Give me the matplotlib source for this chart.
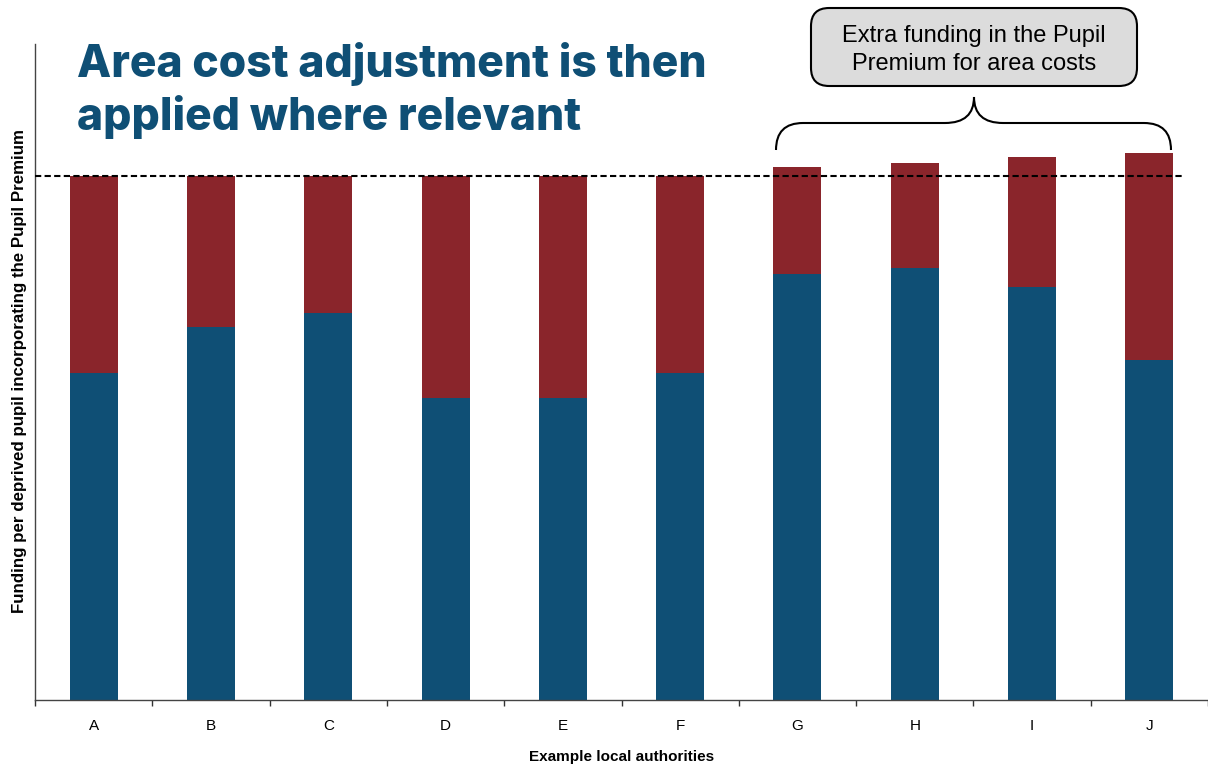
import matplotlib
matplotlib.use("Agg")
import matplotlib.pyplot as plt
from matplotlib.patches import FancyBboxPatch, PathPatch
from matplotlib.path import Path
import numpy as np

categories = ["A", "B", "C", "D", "E", "F", "G", "H", "I", "J"]
base_funding = [62.3, 71.1, 73.8, 57.6, 57.6, 62.3, 81.3, 82.4, 78.7, 64.9]
total_funding = [100.0, 100.0, 100.0, 100.0, 100.0, 100.0, 101.7, 102.4, 103.5, 104.3]
pupil_premium = [t - b for t, b in zip(total_funding, base_funding)]
reference_level = 99.9

BLUE = "#0F4F75"
RED = "#8A252B"

fig = plt.figure(figsize=(12.08, 7.67), dpi=100)
W, H = 1208, 767
ax = fig.add_axes([35 / W, (H - 700) / H, (1208 - 35) / W, (700 - 44) / H])

x = np.arange(len(categories))
ax.bar(x, base_funding, width=0.41, color=BLUE, zorder=2)
ax.bar(x, pupil_premium, bottom=base_funding, width=0.41, color=RED, zorder=2)
ax.plot([-0.5, 9.3], [reference_level, reference_level], ls=(0, (3, 1.6)),
        color="black", lw=1.5, zorder=3)

ax.set_xlim(-0.5, 9.5)
ax.set_ylim(0, 125.1)

ax.set_xticks(np.arange(-0.5, 9.6, 1.0))
ax.set_xticklabels([])
ax.set_xticks(x, minor=True)
ax.set_xticklabels(categories, minor=True, fontsize=11, family="Liberation Sans")
ax.tick_params(axis="x", which="major", direction="out", length=4, width=1, color="#333333")
ax.tick_params(axis="x", which="minor", length=0, pad=14)
ax.set_yticks([])
for s in ["top", "right"]:
    ax.spines[s].set_visible(False)
for s in ["left", "bottom"]:
    ax.spines[s].set_color("#444444")
    ax.spines[s].set_linewidth(1)

ax.set_xlabel("Example local authorities", fontsize=11, fontweight="bold",
              family="Liberation Sans", labelpad=12)
fig.text(20 / W, 1 - 371 / H, "Funding per deprived pupil incorporating the Pupil Premium",
         rotation=90, ha="center", va="center", fontsize=12.2, fontweight="bold",
         family="Liberation Sans")

# Title
fig.text(77 / W, 1 - 77 / H, "Area cost adjustment is then", fontsize=32,
         fontweight="heavy", color=BLUE, family="Inter", ha="left", va="baseline")
fig.text(77 / W, 1 - 130 / H, "applied where relevant", fontsize=32,
         fontweight="heavy", color=BLUE, family="Inter", ha="left", va="baseline")

# Callout box (figure pixel coordinates)
box = FancyBboxPatch((811 / W, 1 - 86 / H), (1137 - 811) / W, (86 - 8) / H,
                     boxstyle="round,pad=0,rounding_size=0.015",
                     transform=fig.transFigure, facecolor="#DCDCDC",
                     edgecolor="black", lw=1.5, mutation_aspect=W / H)
fig.add_artist(box)
fig.text(974 / W, 1 - 42 / H, "Extra funding in the Pupil", ha="center", va="baseline",
         fontsize=17, family="Liberation Sans")
fig.text(974 / W, 1 - 70 / H, "Premium for area costs", ha="center", va="baseline",
         fontsize=17, family="Liberation Sans")

# Curly brace
def P(px, py):
    return (px / W, 1 - py / H)

verts = [P(776, 150), P(776, 123), P(803, 123),
         P(945, 123),
         P(974, 123), P(974, 97),
         P(974, 123), P(1003, 123),
         P(1144, 123),
         P(1171, 123), P(1171, 150)]
codes = [Path.MOVETO, Path.CURVE3, Path.CURVE3,
         Path.LINETO,
         Path.CURVE3, Path.CURVE3,
         Path.CURVE3, Path.CURVE3,
         Path.LINETO,
         Path.CURVE3, Path.CURVE3]
brace = PathPatch(Path(verts, codes), transform=fig.transFigure, fill=False,
                  edgecolor="black", lw=1.5)
fig.add_artist(brace)

fig.savefig("out.png", dpi=100)
